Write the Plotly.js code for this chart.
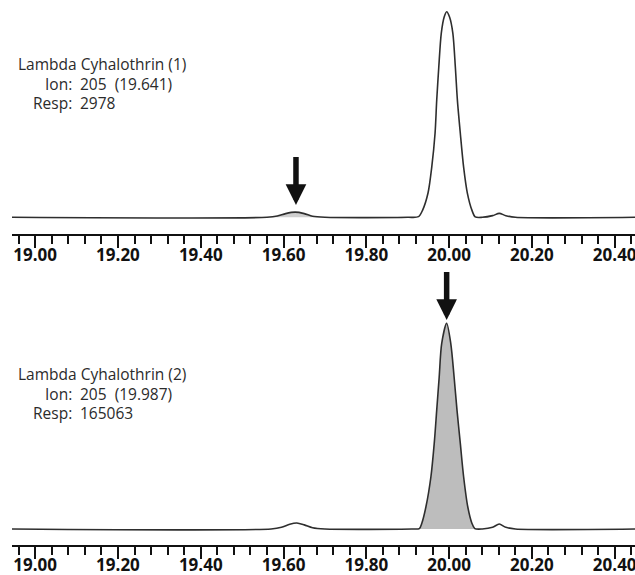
<!DOCTYPE html>
<html>
<head>
<meta charset="utf-8">
<script src="https://cdn.plot.ly/plotly-3.0.1.min.js"></script>
<style>html,body{margin:0;padding:0;background:#fff;}</style>
</head>
<body>
<div id="chart" style="width:635px;height:575px;"></div>
<script>
// ---- data (retention time in min, relative abundance) ----
const topRt = [18.944, 19.560, 19.585, 19.605, 19.628, 19.650, 19.670, 19.700, 19.900, 19.926, 19.936, 19.949, 19.958, 19.966, 19.970, 19.975, 19.981, 19.988, 19.994, 20.001, 20.009, 20.015, 20.020, 20.027, 20.035, 20.044, 20.055, 20.063, 20.080, 20.105, 20.121, 20.137, 20.160, 20.449];
const topAbund = [0, 0, 0.6, 1.8, 2.5, 1.8, 0.5, 0, 0, 0.3, 3.5, 11.8, 24.4, 40.9, 56.9, 73.1, 89.5, 97.4, 100, 97.4, 89.5, 73.1, 56.9, 40.9, 24.4, 11.8, 3.5, 0.2, 0, 0.8, 1.9, 0.8, 0, 0];

const botRt = [18.944, 19.570, 19.595, 19.615, 19.632, 19.650, 19.670, 19.700, 19.910, 19.928, 19.934, 19.944, 19.956, 19.964, 19.970, 19.976, 19.982, 19.994, 20.004, 20.012, 20.019, 20.027, 20.035, 20.045, 20.055, 20.062, 20.080, 20.105, 20.121, 20.137, 20.160, 20.449];
const botAbund = [0, 0, 0.8, 2.3, 2.9, 2.0, 0.6, 0, 0, 0.2, 2.8, 10.8, 25.4, 41.6, 57.8, 73.9, 90.1, 100, 90.1, 73.9, 57.8, 41.6, 25.4, 10.8, 2.8, 0.2, 0, 0.8, 2.4, 0.8, 0, 0];

// integrated (shaded) windows
const topShade = [19.560, 19.700];
const botShade = [19.928, 20.062];

// arrow tips (peak marked)
const topArrow = {rt: 19.630, abund: 6.0};
const botArrow = {rt: 19.994, abund: 101.6};

const majorTicks = [19.00, 19.20, 19.40, 19.60, 19.80, 20.00, 20.20, 20.40];
const tickLabels = ['19.00', '19.20', '19.40', '19.60', '19.80', '20.00', '20.20', '20.40'];
const minorStep = 0.04;

const compounds = ['Lambda Cyhalothrin (1)', 'Lambda Cyhalothrin (2)'];
const ions = ['205\u00a0\u00a0(19.641)', '205\u00a0\u00a0(19.987)'];
const responses = ['2978', '165063'];

// ---- build ----
function sub(xs, ys, lo, hi) {
  const ox = [], oy = [];
  xs.forEach((x, i) => { if (x >= lo && x <= hi) { ox.push(x); oy.push(ys[i]); } });
  return {x: ox, y: oy};
}
const lineStyle = {color: '#2e2e2e', width: 1.6, shape: 'spline', smoothing: 0.8};
const tShade = sub(topRt, topAbund, topShade[0], topShade[1]);
const bShade = sub(botRt, botAbund, botShade[0], botShade[1]);

const traces = [
  {x: tShade.x, y: tShade.y, xaxis: 'x', yaxis: 'y', mode: 'lines', fill: 'tozeroy',
   fillcolor: '#cfcfcf', line: {width: 0, shape: 'spline', smoothing: 0.8}, hoverinfo: 'skip'},
  {x: topRt, y: topAbund, xaxis: 'x', yaxis: 'y', mode: 'lines', line: lineStyle},
  {x: bShade.x, y: bShade.y, xaxis: 'x2', yaxis: 'y2', mode: 'lines', fill: 'tozeroy',
   fillcolor: '#bdbdbd', line: {width: 0, shape: 'spline', smoothing: 0.8}, hoverinfo: 'skip'},
  {x: botRt, y: botAbund, xaxis: 'x2', yaxis: 'y2', mode: 'lines', line: lineStyle}
];

const H = 575, L = 12, W = 623;
const px = v => (v - L) / W;
const py = v => 1 - v / H;

function xax(anchor) {
  return {
    anchor: anchor, range: [18.944, 20.449], showgrid: false, zeroline: false,
    showline: true, linecolor: '#111', linewidth: 2,
    tickmode: 'array', tickvals: majorTicks, ticktext: tickLabels,
    ticks: 'outside', ticklen: 12, tickwidth: 2, tickcolor: '#111',
    ticklabelstandoff: -8, ticklabeloverflow: 'allow',
    tickfont: {family: 'Open Sans', size: 17, color: '#111', weight: 700},
    minor: {dtick: minorStep, tick0: 19, ticks: 'outside', ticklen: 8, tickwidth: 2, tickcolor: '#111', showgrid: false},
    fixedrange: true
  };
}
function yax(dom, rng) {
  return {domain: dom, range: rng, visible: false, showgrid: false, zeroline: false, fixedrange: true};
}

const txtFont = {family: 'Open Sans', size: 15.5, color: '#2b2b2b'};
const annotations = [];
function block(yTop, i) {
  const base = {xref: 'paper', yref: 'paper', yanchor: 'middle', showarrow: false, font: txtFont, borderpad: 0};
  annotations.push(Object.assign({}, base, {x: px(17), y: py(yTop), xanchor: 'left', text: compounds[i]}));
  annotations.push(Object.assign({}, base, {x: px(73), y: py(yTop + 20), xanchor: 'right', text: 'Ion:'}));
  annotations.push(Object.assign({}, base, {x: px(79), y: py(yTop + 20), xanchor: 'left', text: ions[i]}));
  annotations.push(Object.assign({}, base, {x: px(73), y: py(yTop + 39), xanchor: 'right', text: 'Resp:'}));
  annotations.push(Object.assign({}, base, {x: px(79), y: py(yTop + 39), xanchor: 'left', text: responses[i]}));
}
block(64, 0);
block(374, 1);

const arrowStyle = {showarrow: true, arrowhead: 2, arrowsize: 0.75, arrowwidth: 5.5, arrowcolor: '#111', ax: 0, ay: -50, text: ' ', font: {size: 1}, standoff: 0};
annotations.push(Object.assign({xref: 'x', yref: 'y', x: topArrow.rt, y: topArrow.abund}, arrowStyle));
annotations.push(Object.assign({xref: 'x2', yref: 'y2', x: botArrow.rt, y: botArrow.abund}, arrowStyle));

const layout = {
  width: 635, height: 575,
  margin: {l: L, r: 0, t: 0, b: 0, pad: 0},
  paper_bgcolor: '#fff', plot_bgcolor: '#fff',
  showlegend: false,
  xaxis: xax('y'),
  yaxis: yax([py(234.3), 1], [-8.27, 105.7]),
  xaxis2: xax('y2'),
  yaxis2: yax([py(545), py(250)], [-7.78, 135.6]),
  annotations: annotations
};

Plotly.newPlot('chart', traces, layout, {staticPlot: true, displayModeBar: false});
</script>
</body>
</html>
